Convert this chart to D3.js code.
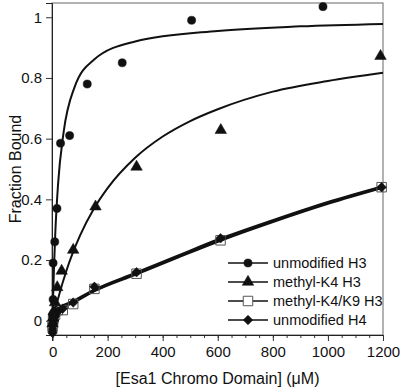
<!DOCTYPE html>
<html>
<head>
<meta charset="utf-8">
<script src="https://d3js.org/d3.v7.min.js"></script>
<style>
    body { margin: 0; background: #fff; }
    svg { font-family: "Liberation Sans", Arial, sans-serif; }
</style>
</head>
<body>
<svg width="400" height="391"></svg>
<script>
    // measured points [concentration uM, fraction bound]
    var h3Points = [[0, -0.03], [1, 0.02], [2, 0.07], [2, 0.19], [8, 0.26], [16, 0.37],
        [29, 0.585], [62, 0.61], [126, 0.78], [253, 0.85], [505, 0.99], [982, 1.035]];
    var k4Points = [[0, -0.01], [2, 0.01], [4, 0.03], [9, 0.06], [17, 0.11], [33, 0.164],
        [75, 0.233], [156, 0.376], [305, 0.507], [611, 0.628], [1191, 0.872]];
    var k4k9Points = [[0, -0.02], [2, 0.0], [4, 0.01], [9, 0.02], [19, 0.035], [37, 0.035],
        [75, 0.055], [152, 0.105], [305, 0.155], [610, 0.265], [1195, 0.44]];
    var h4Points = [[0, -0.04], [2, -0.01], [4, 0.0], [9, 0.015], [19, 0.03], [37, 0.04],
        [75, 0.06], [152, 0.112], [305, 0.16], [610, 0.272], [1195, 0.44]];

    // fitted curves
    var h3Fit = [[0, 0], [3, 0.11], [5, 0.17], [10, 0.29], [20, 0.45], [40, 0.62], [80, 0.77],
        [150, 0.86], [300, 0.92], [600, 0.955], [900, 0.97], [1200, 0.978]];
    var k4Fit = [[0, 0], [10, 0.038], [25, 0.089], [50, 0.164], [100, 0.281], [150, 0.369],
        [200, 0.437], [300, 0.537], [400, 0.607], [500, 0.658], [600, 0.697], [800, 0.755],
        [1000, 0.79], [1200, 0.817]];
    var k4k9Fit = [[0, 0], [20, 0.033], [75, 0.06], [150, 0.098], [300, 0.153], [450, 0.208],
        [600, 0.262], [800, 0.327], [1000, 0.387], [1200, 0.44]];
    var h4Fit = [[0, 0], [20, 0.036], [75, 0.063], [150, 0.1], [300, 0.156], [450, 0.211],
        [600, 0.266], [800, 0.33], [1000, 0.39], [1200, 0.442]];

    var xTicks = [0, 200, 400, 600, 800, 1000, 1200];
    var yTicks = [0, 0.2, 0.4, 0.6, 0.8, 1];
    var legendNames = ['unmodified H3', 'methyl-K4 H3', 'methyl-K4/K9 H3', 'unmodified H4'];

    var svg = d3.select('svg');
    var pLeft = 52, pRight = 383, pTop = 3, pBottom = 335;

    var x = d3.scaleLinear().domain([-2, 1200]).range([pLeft, pRight]);
    var y = d3.scaleLinear().domain([-0.047, 1.047]).range([pBottom, pTop]);

    // frame
    svg.append('rect')
        .attr('x', pLeft).attr('y', pTop)
        .attr('width', pRight - pLeft).attr('height', pBottom - pTop)
        .attr('fill', 'none').attr('stroke', '#666').attr('stroke-width', 1);

    // x axis with minor ticks
    var xMinor = svg.append('g').attr('transform', 'translate(0,' + pBottom + ')')
        .call(d3.axisBottom(x).tickValues(d3.range(0, 1201, 50)).tickSize(3).tickFormat(''));
    xMinor.select('.domain').remove();
    var xMajor = svg.append('g').attr('transform', 'translate(0,' + pBottom + ')')
        .call(d3.axisBottom(x).tickValues(xTicks).tickSize(6).tickPadding(5).tickFormat(d3.format('d')));
    xMajor.select('.domain').attr('stroke', '#222');
    svg.selectAll('.tick line').attr('stroke', '#333');
    xMajor.selectAll('text').attr('font-size', 15).attr('fill', '#111')
        .attr('font-family', '"Liberation Sans", Arial, sans-serif');

    var yAxis = svg.append('g').attr('transform', 'translate(' + pLeft + ',0)')
        .call(d3.axisLeft(y).tickValues(yTicks).tickSize(6).tickPadding(4)
            .tickFormat(function(d) { return d === 0 || d === 1 ? d3.format('d')(d) : d3.format('.1f')(d); }));
    yAxis.select('.domain').attr('stroke', '#222');
    yAxis.selectAll('.tick line').attr('stroke', '#333');
    yAxis.selectAll('text').attr('font-size', 15).attr('fill', '#111')
        .attr('font-family', '"Liberation Sans", Arial, sans-serif');

    // titles
    svg.append('text')
        .attr('transform', 'translate(15,' + ((pTop + pBottom) / 2) + ') rotate(-90)')
        .attr('text-anchor', 'middle').attr('dy', '0.35em')
        .attr('font-size', 16).attr('fill', '#111')
        .text('Fraction Bound');
    svg.append('text')
        .attr('x', (pLeft + pRight) / 2).attr('y', 384)
        .attr('text-anchor', 'middle')
        .attr('font-size', 16).attr('fill', '#111')
        .text('[Esa1 Chromo Domain] (\u03bcM)');

    var line = d3.line()
        .x(function(d) { return x(d[0]); })
        .y(function(d) { return y(d[1]); })
        .curve(d3.curveMonotoneX);

    var plot = svg.append('g');
    plot.append('path').datum(h3Fit).attr('d', line)
        .attr('fill', 'none').attr('stroke', '#111').attr('stroke-width', 2);
    plot.append('path').datum(k4Fit).attr('d', line)
        .attr('fill', 'none').attr('stroke', '#111').attr('stroke-width', 2);
    plot.append('path').datum(k4k9Fit).attr('d', line)
        .attr('fill', 'none').attr('stroke', '#111').attr('stroke-width', 3);
    plot.append('path').datum(h4Fit).attr('d', line)
        .attr('fill', 'none').attr('stroke', '#111').attr('stroke-width', 3);

    var symCircle = d3.symbol().type(d3.symbolCircle).size(52);
    var symTri = d3.symbol().type(d3.symbolTriangle).size(58);
    var symSquare = d3.symbol().type(d3.symbolSquare).size(90);
    var symDiamond = d3.symbol().type(d3.symbolSquare).size(46);

    function drawMarkers(data, sym, filled, rot) {
        plot.selectAll(null)
            .data(data)
            .enter()
            .append('path')
            .attr('d', sym)
            .attr('transform', function(d) {
                return 'translate(' + x(d[0]) + ',' + y(d[1]) + ')' + (rot ? ' rotate(45)' : '');
            })
            .attr('fill', filled ? '#111' : 'none')
            .attr('stroke', filled ? '#111' : '#555')
            .attr('stroke-width', filled ? 0.5 : 1);
    }
    drawMarkers(k4k9Points, symSquare, false, false);
    drawMarkers(h4Points, symDiamond, true, true);
    drawMarkers(k4Points, symTri, true, false);
    drawMarkers(h3Points, symCircle, true, false);

    // legend
    var legendSyms = [symCircle, symTri, symSquare, symDiamond];
    var legendY = d3.scalePoint().domain(legendNames).range([263, 320]);
    var legend = svg.append('g');
    legendNames.forEach(function(name, i) {
        var ly = legendY(name);
        legend.append('line')
            .attr('x1', 228).attr('x2', 268).attr('y1', ly).attr('y2', ly)
            .attr('stroke', '#111').attr('stroke-width', 1.5);
        legend.append('path')
            .attr('d', legendSyms[i])
            .attr('transform', 'translate(248,' + ly + ')' + (i === 3 ? ' rotate(45)' : ''))
            .attr('fill', i === 2 ? '#fff' : '#111')
            .attr('stroke', i === 2 ? '#555' : '#111')
            .attr('stroke-width', i === 2 ? 1 : 0.5);
        legend.append('text')
            .attr('x', 273).attr('y', ly).attr('dy', '0.35em')
            .attr('font-size', 14.5).attr('fill', '#111')
            .text(name);
    });
</script>
</body>
</html>
